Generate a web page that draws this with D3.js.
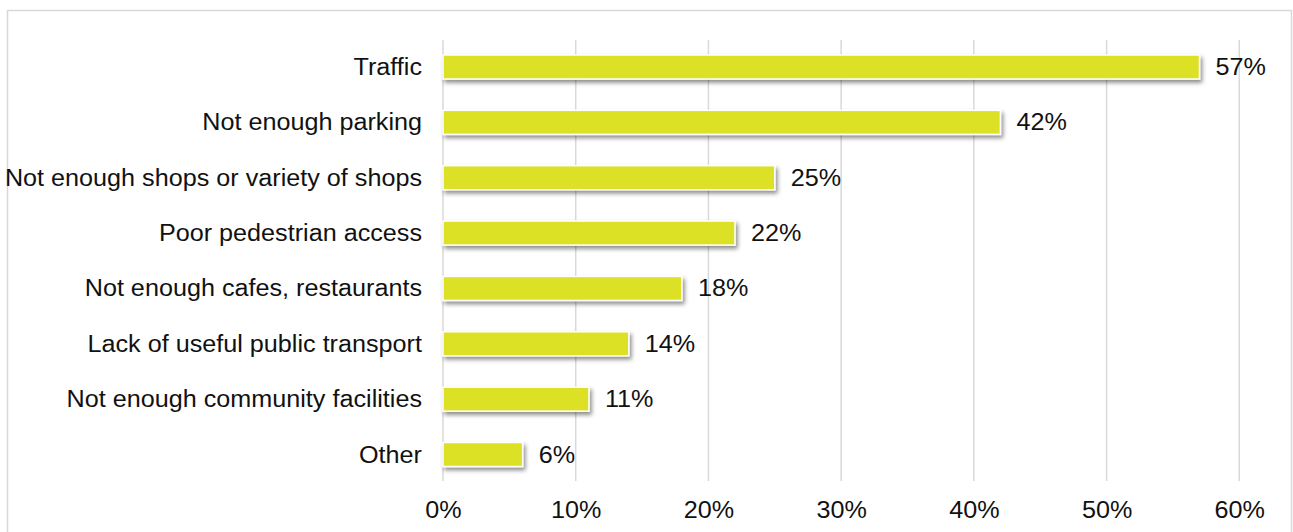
<!DOCTYPE html>
<html>
<head>
<meta charset="utf-8">
<script src="https://cdn.jsdelivr.net/npm/d3@7"></script>
<style>
  html, body { margin: 0; padding: 0; background: #fff; }
  svg { display: block; }
  text { font-family: "Liberation Sans", Arial, Helvetica, sans-serif; fill: #111; }
</style>
</head>
<body>
<svg id="chart" width="1293" height="532"></svg>
<script>
// Reasons given, with share of respondents (%)
const categories = [
  "Traffic",
  "Not enough parking",
  "Not enough shops or variety of shops",
  "Poor pedestrian access",
  "Not enough cafes, restaurants",
  "Lack of useful public transport",
  "Not enough community facilities",
  "Other"
];
const values = [57, 42, 25, 22, 18, 14, 11, 6];
const tickValues = [0, 10, 20, 30, 40, 50, 60];

const W = 1293, H = 532;
const FS = 23;          // label font size
const SX = 1.095;       // slightly wide lettering
const svg = d3.select("#chart");

// Drop shadow under the bars
const defs = svg.append("defs");
const f = defs.append("filter").attr("id", "barShadow")
  .attr("x", "-5%").attr("y", "-40%").attr("width", "115%").attr("height", "200%");
f.append("feDropShadow").attr("dx", 2).attr("dy", 3).attr("stdDeviation", 2)
  .attr("flood-color", "#000").attr("flood-opacity", 0.45);

// Chart frame
svg.append("path")
  .attr("d", `M7.5,${H} V10.5 H1291.5 V${H}`)
  .attr("fill", "none").attr("stroke", "#d9d9d9").attr("stroke-width", 1.5);

const x = d3.scaleLinear().domain([0, 60]).range([443, 1239.3]);
const y = d3.scaleBand().domain(categories).range([39.3, 482.2])
  .paddingInner(0.566).paddingOuter(0.283);

// Vertical gridlines
svg.append("g").selectAll("line").data(tickValues).join("line")
  .attr("x1", d => x(d)).attr("x2", d => x(d))
  .attr("y1", 40).attr("y2", 481)
  .attr("stroke", "#d9d9d9").attr("stroke-width", 1.5);

// Bottom axis tick labels
const xAxis = d3.axisBottom(x).tickValues(tickValues).tickFormat(d => d + "%").tickSize(0).tickPadding(0);
const ax = svg.append("g").attr("transform", "translate(0,502)").call(xAxis);
ax.select(".domain").remove();
ax.selectAll(".tick text")
  .attr("font-size", FS).attr("fill", "#111")
  .attr("font-family", "'Liberation Sans', Arial, sans-serif")
  .attr("y", 0).attr("dy", "0.71em")
  .attr("transform", `scale(${SX},1)`);

// Bars
svg.append("g").selectAll("rect").data(values).join("rect")
  .attr("x", x(0))
  .attr("y", (d, i) => y(categories[i]))
  .attr("width", d => x(d) - x(0))
  .attr("height", y.bandwidth())
  .attr("fill", "#dde128")
  .attr("stroke", "#ffffff").attr("stroke-width", 1.5)
  .attr("filter", "url(#barShadow)");

// Category labels
svg.append("g").selectAll("text").data(categories).join("text")
  .attr("transform", d => `translate(422,${y(d) + y.bandwidth() / 2}) scale(${SX},1)`)
  .attr("dy", "0.35em")
  .attr("text-anchor", "end")
  .attr("font-size", FS)
  .text(d => d);

// Value labels
svg.append("g").selectAll("text").data(values).join("text")
  .attr("transform", (d, i) => `translate(${x(d) + 16},${y(categories[i]) + y.bandwidth() / 2}) scale(${SX},1)`)
  .attr("dy", "0.35em")
  .attr("font-size", FS)
  .text(d => d + "%");
</script>
</body>
</html>
